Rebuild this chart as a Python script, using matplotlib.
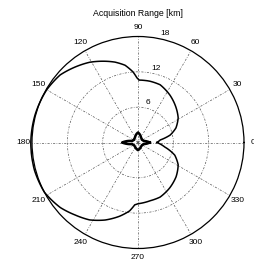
import numpy as np
import matplotlib
matplotlib.use("Agg")
import matplotlib.pyplot as plt

plt.rcParams['font.family'] = ['Liberation Sans', 'DejaVu Sans']

title = "Acquisition Range [km]"

# main acquisition-range curve (angle in degrees, range in km)
angle_deg = [0, 6.5, 13, 21, 31.5, 43, 56, 69, 79, 89, 91, 94, 99.5, 106,
             121, 139, 150, 165, 180, 195, 208, 220, 229, 238, 247, 256,
             263, 267, 270, 282, 292, 305, 318, 331, 341, 350.5, 360]
range_km = [3.2, 3.8, 5.6, 6.9, 8.0, 8.8, 9.7, 10.5, 10.6, 10.6, 11.0, 12.0,
            13.3, 14.2, 15.9, 17.5, 17.9, 18.1, 18.2, 18.2, 18.0, 17.2, 16.3,
            15.5, 14.3, 12.9, 11.7, 10.6, 10.4, 10.1, 10.0, 9.4, 8.7, 7.8,
            6.6, 4.6, 3.2]

# small near-field pattern at the origin
inner_deg = [0, 15, 35, 60, 90, 120, 145, 165, 180, 195, 215, 240, 270, 300,
             325, 345, 360]
inner_km = [2.0, 1.0, 0.8, 1.0, 1.7, 1.0, 0.8, 1.0, 2.7, 1.0, 0.8, 0.9, 1.3,
            0.9, 0.8, 1.0, 2.0]

theta_ticks = [0, 30, 60, 90, 120, 150, 180, 210, 240, 270, 300, 330]
r_ticks = [6, 12, 18]
r_max = 18

W, H = 255, 264
fig = plt.figure(figsize=(W / 100, H / 100), dpi=100)
cx, cy, rad = 138, 142.5, 106
ax = fig.add_axes([(cx - rad) / W, (H - cy - rad) / H, 2 * rad / W, 2 * rad / H],
                  projection='polar')
ax.set_ylim(0, r_max)
ax.set_xticks(np.deg2rad(theta_ticks))
ax.set_xticklabels([])
ax.set_yticks(r_ticks[:-1])
ax.set_yticklabels([])
ax.grid(True, color='#555555', linewidth=0.5, linestyle=(0, (3, 2, 1, 2)))
ax.spines['polar'].set_color('black')
ax.spines['polar'].set_linewidth(0.9)
ax.tick_params(length=0)

fs = 6
for t in theta_ticks:
    ax.text(np.deg2rad(t), r_max * 1.085, str(t), ha='center', va='center',
            fontsize=fs, clip_on=False)
for r in r_ticks:
    ax.text(np.deg2rad(76), r + 1.0, str(r), ha='center', va='center',
            fontsize=fs, clip_on=False)

main_line, = ax.plot(np.deg2rad(angle_deg), range_km, color='black',
                     linewidth=1.1, clip_on=False)
main_line.get_path()._interpolation_steps = 20
inner_line, = ax.plot(np.deg2rad(inner_deg), inner_km, color='black',
                      linewidth=1.8)
inner_line.get_path()._interpolation_steps = 10

fig.text(cx / W, 1 - 14 / H, title, ha='center', va='center', fontsize=6.3)

fig.savefig("out.png", dpi=100)
